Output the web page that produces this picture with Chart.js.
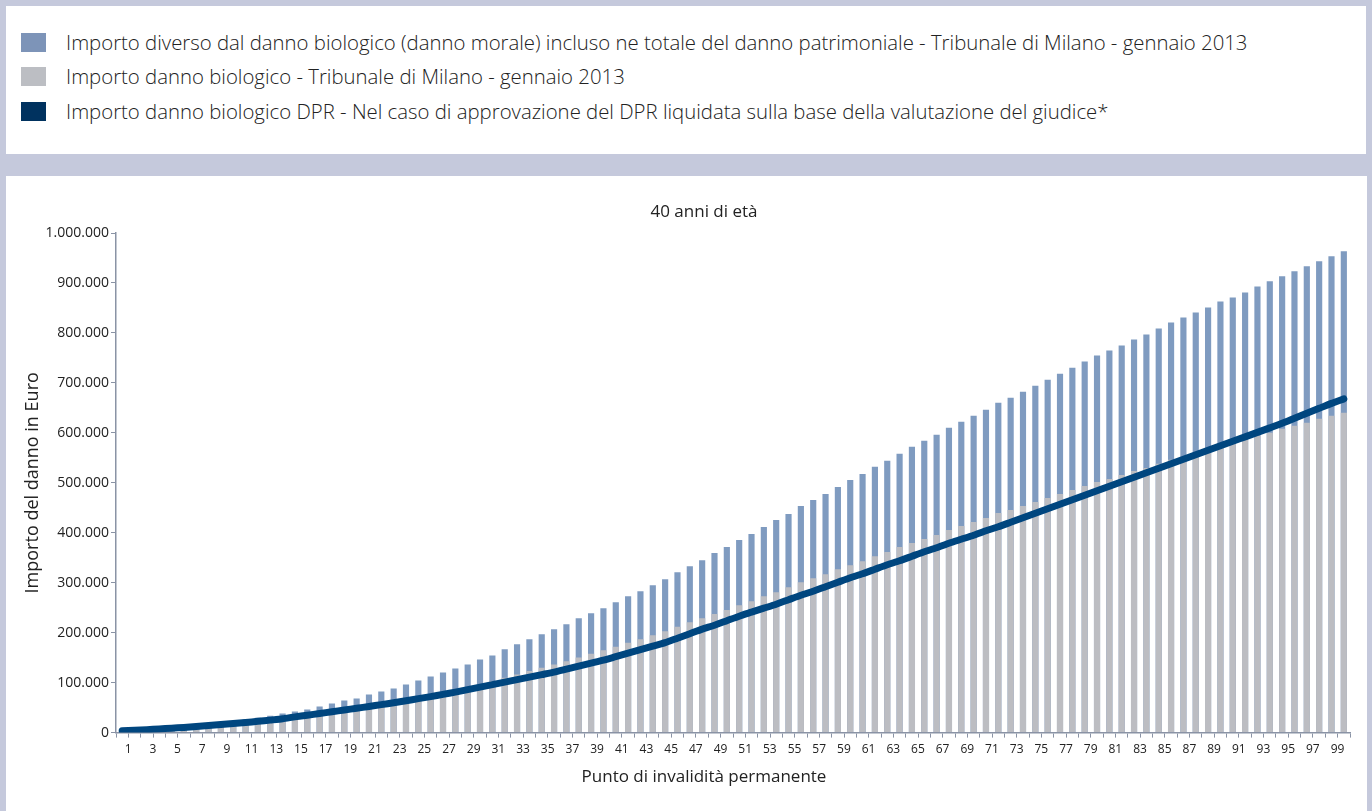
<!DOCTYPE html>
<html lang="it">
<head>
<meta charset="utf-8">
<title>Importo del danno - 40 anni di età</title>
<script src="https://cdn.jsdelivr.net/npm/chart.js@4.4.1/dist/chart.umd.min.js"></script>
<style>
  html, body { margin: 0; padding: 0; }
  body {
    width: 1372px; height: 811px; overflow: hidden; position: relative;
    background: #c5c9dc;
    font-family: 'Open Sans', 'DejaVu Sans', sans-serif;
  }
  .panel { position: absolute; background: #ffffff; }
  #legenda { left: 6px; top: 6px; width: 1360px; height: 148px; }
  #grafico { left: 6px; top: 176px; width: 1361px; height: 635px; }
  .voce {
    position: absolute; left: 15px; height: 20px;
    display: flex; align-items: center;
    font-size: 20.35px; font-weight: 300; color: #222; white-space: nowrap;
  }
  .voce span.q { display: inline-block; width: 25px; height: 19px; margin-right: 20px; }
  canvas { position: absolute; left: 6px; top: 176px; }
</style>
</head>
<body>
<div class="panel" id="legenda">
  <div class="voce" style="top:26px"><span class="q" style="background:#7d94b8"></span>Importo diverso dal danno biologico (danno morale) incluso ne totale del danno patrimoniale - Tribunale di Milano - gennaio 2013</div>
  <div class="voce" style="top:60px"><span class="q" style="background:#bcbec3"></span>Importo danno biologico - Tribunale di Milano - gennaio 2013</div>
  <div class="voce" style="top:95px"><span class="q" style="background:#00325f"></span>Importo danno biologico DPR - Nel caso di approvazione del DPR liquidata sulla base della valutazione del giudice*</div>
</div>
<div class="panel" id="grafico"></div>
<canvas id="c" width="1396" height="635"></canvas>
<script>
// Punti di invalidità permanente (asse x)
const punti = [
  1,2,3,4,5,6,7,8,9,10,11,12,13,14,15,16,17,18,19,20,
  21,22,23,24,25,26,27,28,29,30,31,32,33,34,35,36,37,38,39,40,
  41,42,43,44,45,46,47,48,49,50,51,52,53,54,55,56,57,58,59,60,
  61,62,63,64,65,66,67,68,69,70,71,72,73,74,75,76,77,78,79,80,
  81,82,83,84,85,86,87,88,89,90,91,92,93,94,95,96,97,98,99,100
];

// Danno biologico - Tribunale di Milano, gennaio 2013 (euro)
const dannoBiologico = [
  1200,2500,3900,5400,7000,8700,10500,12500,14600,16800,
  19200,21700,24400,27200,30100,33200,36400,39800,43300,47000,
  51000,55200,59600,64200,69000,74000,79000,85000,91000,97000,
  103500,110000,116400,123500,130000,136500,143000,150500,158000,164600,
  172000,180000,187000,195000,203000,212000,220800,229000,237500,245500,
  254900,262900,272900,281000,291000,301000,309100,317100,327100,335200,
  343200,353200,361300,371300,379300,387400,395400,405400,413400,421500,
  429500,439500,445600,453600,461600,469600,477700,485700,493700,501800,
  507800,515800,523800,529800,537900,545900,551900,560000,566000,574000,
  580000,586100,594100,600100,608100,614100,620200,628200,634200,640200
];

// Totale del danno (biologico + danno morale) - Tribunale di Milano, gennaio 2013 (euro)
const dannoTotale = [
  1500,3200,5000,7000,9200,11500,14000,16700,19600,22700,
  26000,29600,33500,38100,42100,46200,52200,58200,64200,68200,
  76300,82300,88300,96300,104400,112400,120400,128400,136500,146500,
  154500,166600,176600,186700,196700,206700,216800,228800,238800,248900,
  260900,272900,283000,295000,307100,321100,333200,345200,359300,371300,
  385300,397400,411400,425500,437500,453600,465600,477700,491700,505800,
  517800,531900,543900,557900,572000,584000,596100,610100,622200,634200,
  646300,660300,670300,682400,694400,706500,718500,730500,742600,754600,
  764700,774700,786700,796800,808800,820900,830900,840900,851000,863000,
  871000,881100,893100,903200,913200,923200,933300,943300,953300,963400
];

// Danno biologico secondo il DPR (euro)
const dannoDPR = [
  3500,4500,5800,7200,8800,10400,12200,14000,16000,18000,
  20200,22500,25000,27600,31500,34800,38300,41800,45300,48800,
  52300,56000,59800,63800,68000,72000,76500,81000,86000,91000,
  96000,101000,106000,111000,116000,121000,127000,133000,139000,145000,
  152000,159000,166000,173000,180000,189000,198000,207000,215000,224000,
  233000,241000,249000,257000,266000,275000,283000,292000,301000,310000,
  318000,327000,336000,344000,353000,362000,370000,379000,387000,395000,
  404000,412000,421000,430000,439000,448000,457000,466000,475000,484000,
  493000,502000,511000,520000,529000,538000,547000,556000,565000,574000,
  583000,592000,601000,610000,619000,629000,639000,649000,659000,668000
];

const titoloGrafico = '40 anni di età';
const titoloAsseX = 'Punto di invalidità permanente';
const titoloAsseY = 'Importo del danno in Euro';

const coloreAsse = '#8a93a5';
const coloreTesto = '#222222';
const famiglia = "'Open Sans', 'DejaVu Sans', sans-serif";
const migliaia = v => String(v).replace(/\B(?=(\d{3})+(?!\d))/g, '.');

// Titolo e titolo dell'asse x centrati sulla larghezza della tela
const titoliCentrati = {
  id: 'titoliCentrati',
  afterDraw(chart) {
    const { ctx, chartArea } = chart;
    const cx = chart.width / 2;
    ctx.save();
    ctx.fillStyle = coloreTesto;
    ctx.textAlign = 'center';
    ctx.textBaseline = 'middle';
    ctx.font = '17px ' + famiglia;
    ctx.fillText(titoloGrafico, cx, chartArea.top - 21);
    ctx.font = '17px ' + famiglia;
    ctx.fillText(titoloAsseX, cx, chartArea.bottom + 45);
    ctx.restore();
  }
};

Chart.defaults.font.family = famiglia;
Chart.defaults.color = coloreTesto;

new Chart(document.getElementById('c'), {
  type: 'bar',
  data: {
    labels: punti,
    datasets: [
      {
        type: 'line',
        label: 'Importo danno biologico DPR',
        data: dannoDPR,
        borderColor: '#00467f',
        borderWidth: 7,
        borderCapStyle: 'round',
        borderJoinStyle: 'round',
        pointRadius: 0,
        tension: 0.2,
        fill: false,
        order: 0
      },
      {
        label: 'Importo danno biologico - Tribunale di Milano - gennaio 2013',
        data: dannoBiologico,
        backgroundColor: '#bcbdc2',
        grouped: false,
        barPercentage: 0.5,
        categoryPercentage: 1.0,
        order: 1
      },
      {
        label: 'Importo diverso dal danno biologico (danno morale) incluso ne totale del danno patrimoniale',
        data: dannoTotale,
        backgroundColor: '#7f9bc0',
        grouped: false,
        barPercentage: 0.5,
        categoryPercentage: 1.0,
        order: 2
      }
    ]
  },
  plugins: [titoliCentrati],
  options: {
    responsive: false,
    animation: false,
    devicePixelRatio: 1,
    layout: { padding: { left: 0, right: 52, top: 57, bottom: 49 } },
    plugins: {
      legend: { display: false },
      tooltip: { enabled: false },
      title: { display: false }
    },
    scales: {
      x: {
        offset: true,
        grid: {
          offset: true,
          drawOnChartArea: false,
          drawTicks: true,
          tickLength: 5,
          color: coloreAsse
        },
        border: { display: true, color: coloreAsse, width: 1.5 },
        ticks: {
          autoSkip: false,
          maxRotation: 0,
          labelOffset: 6,
          padding: 5,
          color: coloreTesto,
          font: { size: 12 },
          callback: (v, i) => (i % 2 === 0 ? String(punti[i]) : '')
        }
      },
      y: {
        min: 0,
        max: 1000000,
        afterFit: s => { s.width = 110; },
        grid: {
          drawOnChartArea: false,
          drawTicks: true,
          tickLength: 5,
          color: coloreAsse
        },
        border: { display: true, color: coloreAsse, width: 1.5 },
        ticks: {
          stepSize: 100000,
          padding: 2,
          color: coloreTesto,
          font: { size: 14 },
          callback: v => migliaia(v)
        },
        title: {
          display: true,
          text: titoloAsseY,
          color: coloreTesto,
          font: { size: 18 },
          padding: { top: 16, bottom: 0 }
        }
      }
    }
  }
});
</script>
</body>
</html>
